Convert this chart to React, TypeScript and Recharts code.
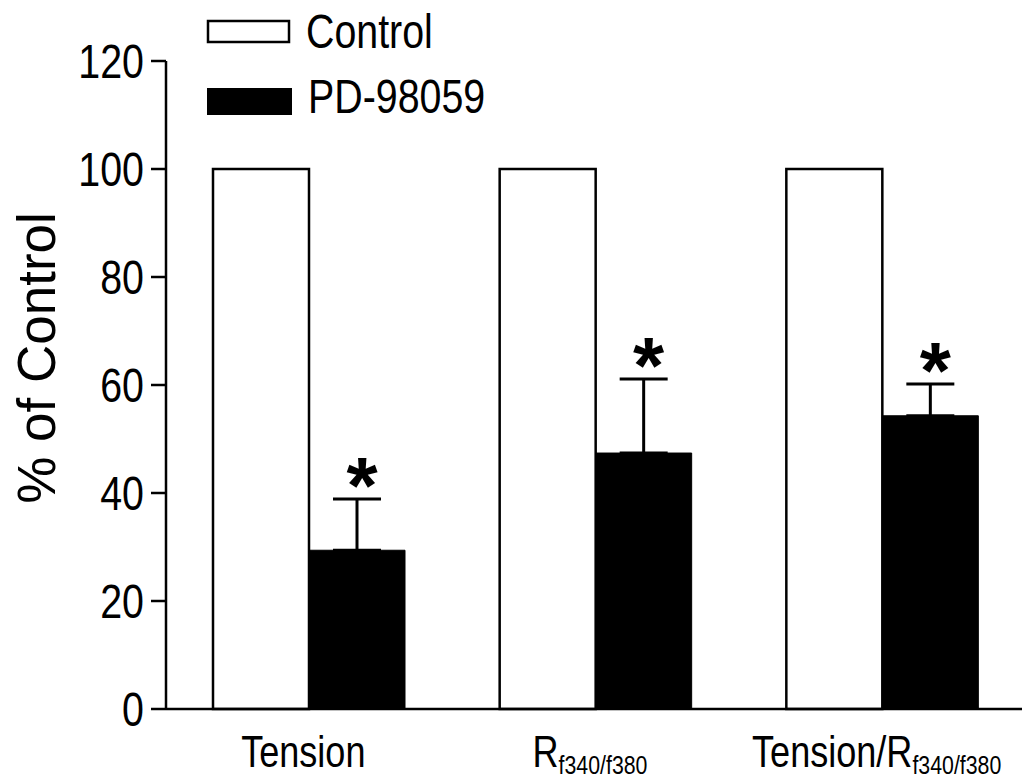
import { BarChart, Bar, XAxis, YAxis, ErrorBar, LabelList, Legend } from 'recharts';

const categories = ['Tension', 'R', 'Tension/R'];
const subscripts = ['', 'f340/f380', 'f340/f380'];
const controlValues = [100, 100, 100];
const pdValues = [29.4, 47.4, 54.3];
const pdErrors = [9.5, 13.7, 5.9];
const yTicks = [0, 20, 40, 60, 80, 100, 120];
const seriesNames = ['Control', 'PD-98059'];

const data = categories.map((name, i) => ({
  name,
  control: controlValues[i],
  pd: pdValues[i],
  pdErr: [0, pdErrors[i]],
}));

const SANS = "'Liberation Sans', Arial, Helvetica, sans-serif";
// the original uses a condensed face, squeeze Liberation Sans horizontally
const SQUEEZE = 0.82;

function Narrow({ x, y, size, anchor, children }: any) {
  return (
    <g transform={`translate(${x}, ${y}) scale(${SQUEEZE}, 1)`}>
      <text x={0} y={0} textAnchor={anchor || 'start'} fontFamily={SANS} fontSize={size} fill="#000">
        {children}
      </text>
    </g>
  );
}

function XTick(props: any) {
  const { x, y, payload, index } = props;
  const sub = subscripts[payload?.index ?? index];
  return (
    <Narrow x={x - 6} y={y + 58} size={44} anchor="middle">
      {payload.value}
      {sub ? <tspan fontSize={26} dy={7}>{sub}</tspan> : null}
    </Narrow>
  );
}

function YTick(props: any) {
  const { x, y, payload } = props;
  return (
    <Narrow x={x} y={y + 17} size={48} anchor="end">
      {payload.value}
    </Narrow>
  );
}

function Star(props: any) {
  const { x, y, width, height, value, index } = props;
  const err = pdErrors[index];
  const top = y - (err * height) / value;
  return (
    <text x={x + width / 2 + 5} y={top - 32 + 46} textAnchor="middle" fontFamily={SANS} fontWeight="bold" fontSize={80} fill="#000">
      *
    </text>
  );
}

function LegendBox(props: any) {
  const items = props.payload && props.payload.length ? props.payload.map((p: any) => p.value) : seriesNames;
  return (
    <svg width={560} height={130} style={{ display: 'block' }}>
      <rect x={208} y={21} width={81} height={21} fill="#fff" stroke="#000" strokeWidth={2.5} />
      <Narrow x={306} y={48} size={48}>{items[0]}</Narrow>
      <rect x={207} y={88} width={85} height={27} fill="#000" />
      <Narrow x={308} y={113} size={48}>{items[1]}</Narrow>
    </svg>
  );
}

export default function App() {
  return (
    <div style={{ position: 'absolute', left: 0, top: 0, width: 1022, height: 783, overflow: 'hidden', background: '#fff' }}>
      <BarChart width={1040} height={783} data={data} margin={{ top: 61, right: 14, bottom: 0, left: 0 }} barGap={0} barSize={96}>
        <XAxis
          dataKey="name"
          height={74}
          tickLine={false}
          tickSize={0}
          tickMargin={0}
          axisLine={{ stroke: '#000', strokeWidth: 2.5 }}
          tick={<XTick />}
          interval={0}
        />
        <YAxis
          width={166}
          domain={[0, 120]}
          ticks={yTicks}
          tickSize={15}
          tickMargin={7}
          axisLine={{ stroke: '#000', strokeWidth: 2.5 }}
          tickLine={{ stroke: '#000', strokeWidth: 2.5 }}
          tick={<YTick />}
          label={{
            content: (p: any) => {
              const vb = p.viewBox || { x: 0, y: 61 };
              const lx = vb.x + 55;
              const ly = vb.y + 297;
              return (
                <text x={lx} y={ly} transform={`rotate(-90, ${lx}, ${ly})`} textAnchor="middle" fontFamily={SANS} fontSize={53} fill="#000">
                  % of Control
                </text>
              );
            },
          }}
        />
        <Legend layout="horizontal" verticalAlign="middle" align="center" content={<LegendBox />} wrapperStyle={{ position: 'absolute', left: 0, top: 0, width: 560, height: 130 }} />
        <Bar dataKey="control" name={seriesNames[0]} fill="#fff" stroke="#000" strokeWidth={2.5} isAnimationActive={false} />
        <Bar dataKey="pd" name={seriesNames[1]} fill="#000" stroke="#000" strokeWidth={1} isAnimationActive={false}>
          <ErrorBar dataKey="pdErr" width={24} stroke="#000" strokeWidth={3} direction="y" />
          <LabelList dataKey="pd" content={<Star />} />
        </Bar>
      </BarChart>
    </div>
  );
}
